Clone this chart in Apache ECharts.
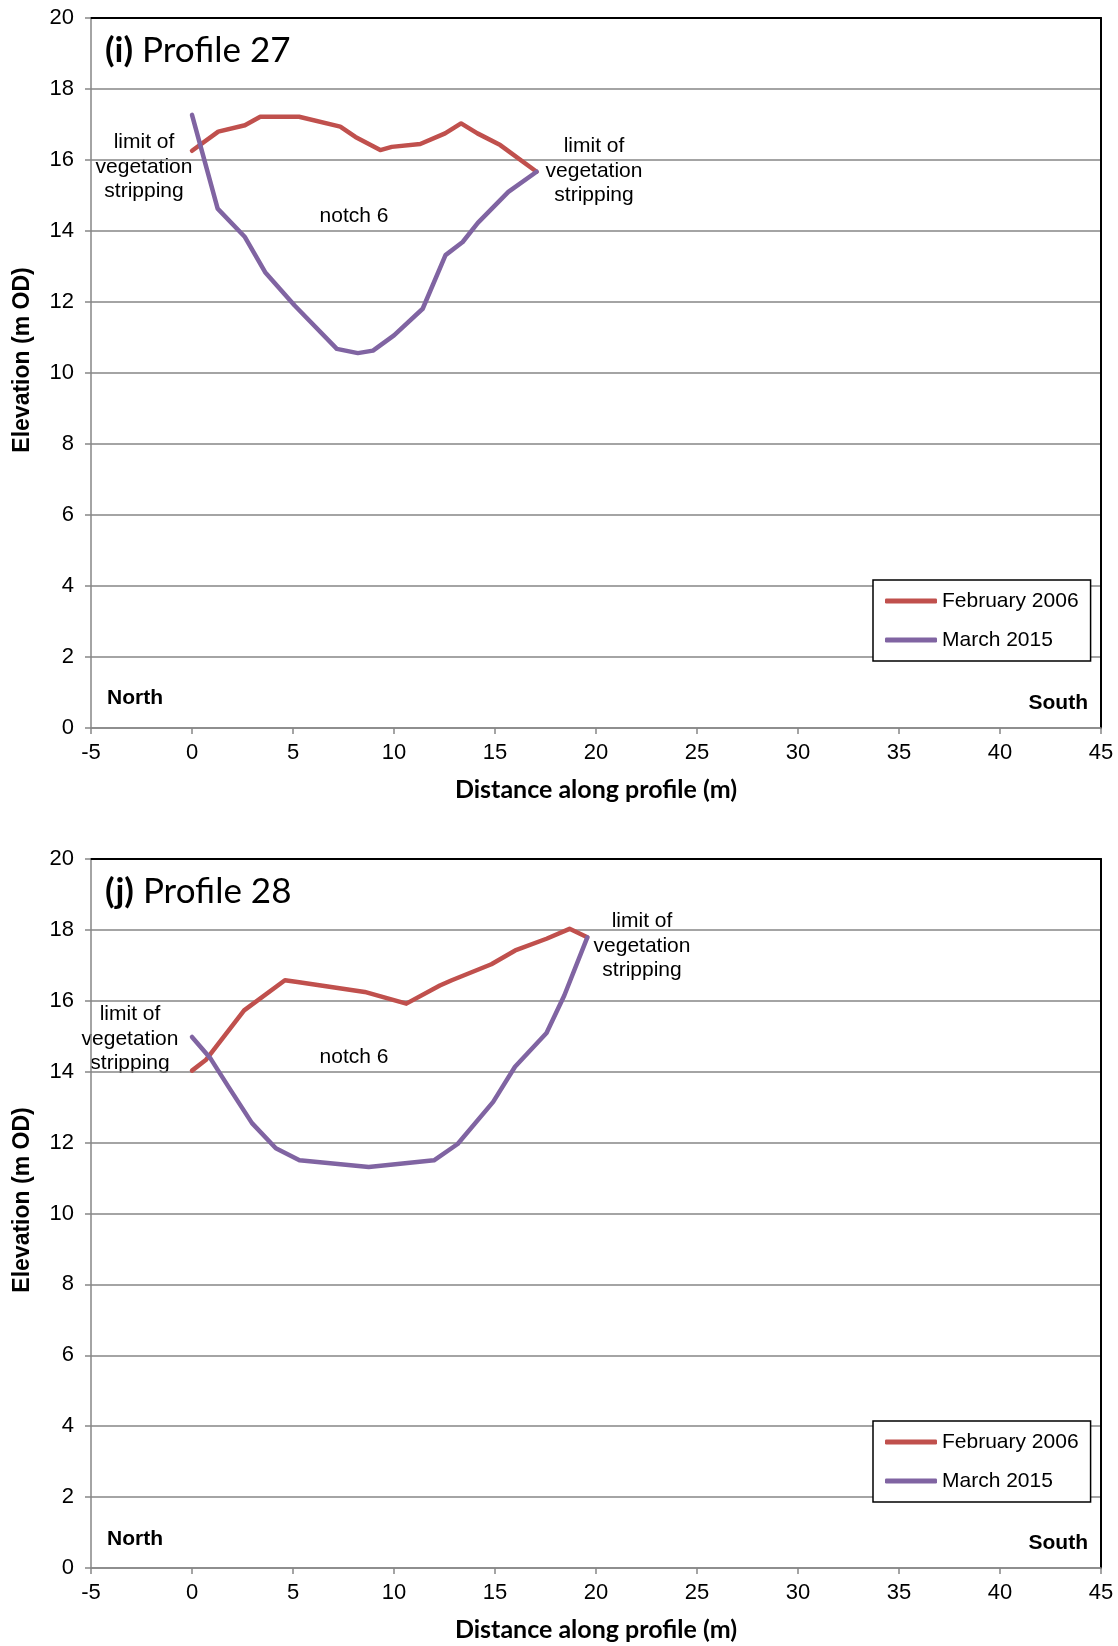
<!DOCTYPE html>
<html>
<head>
<meta charset="utf-8">
<title>Profiles 27 and 28</title>
<script src="https://cdn.jsdelivr.net/npm/echarts@6/dist/echarts.min.js"></script>
<style>
  html, body { margin: 0; padding: 0; background: #ffffff; }
  #chart { width: 1118px; height: 1646px; }
</style>
</head>
<body>
<div id="chart"></div>
<script>
// Surveyed ground profiles across notch 6: [distance along profile (m), elevation (m OD)]
const seriesNames = ['February 2006', 'March 2015'];
const colors = ['#C0504D', '#8064A2'];

const profile27Feb2006 = [
  [0, 16.26], [1.30, 16.80], [2.62, 16.98], [3.38, 17.22], [5.30, 17.22],
  [7.34, 16.94], [8.09, 16.65], [9.32, 16.28], [9.89, 16.37], [11.30, 16.45],
  [12.53, 16.75], [13.32, 17.03], [14.13, 16.75], [15.26, 16.42], [17.06, 15.67]
];
const profile27Mar2015 = [
  [0, 17.27], [1.27, 14.63], [2.62, 13.83], [3.62, 12.84], [5.08, 11.90],
  [7.17, 10.68], [8.21, 10.56], [8.96, 10.63], [10.0, 11.06], [11.42, 11.81],
  [12.55, 13.32], [13.40, 13.69], [14.15, 14.23], [15.66, 15.10], [17.06, 15.67]
];
const profile28Feb2006 = [
  [0, 14.03], [0.68, 14.33], [2.58, 15.73], [4.60, 16.58], [5.22, 16.53],
  [8.55, 16.25], [10.61, 15.92], [12.27, 16.43], [12.86, 16.58], [14.82, 17.03],
  [16.0, 17.42], [17.55, 17.75], [18.69, 18.03], [19.57, 17.79]
];
const profile28Mar2015 = [
  [0, 14.98], [0.92, 14.37], [1.80, 13.58], [2.97, 12.55], [4.15, 11.84],
  [5.32, 11.50], [8.75, 11.31], [11.98, 11.50], [13.15, 11.96], [14.91, 13.15],
  [15.99, 14.14], [17.55, 15.09], [18.43, 16.15], [19.57, 17.79]
];

const panelTitles = [['(i)', ' Profile 27'], ['(j)', ' Profile 28']];
const xTitle = 'Distance along profile (m)';
const yTitle = 'Elevation (m OD)';
const xRange = { min: -5, max: 45, interval: 5 };
const yRange = { min: 0, max: 20, interval: 2 };

const ARIAL = '"Liberation Sans", Arial, sans-serif';
const CALIBRI = 'Lato, "Open Sans", sans-serif';
const GRID_GRAY = '#868686';

const grids = [
  { left: 91, top: 18, width: 1010, height: 710, outerBoundsMode: 'none', containLabel: false },
  { left: 91, top: 859, width: 1010, height: 709, outerBoundsMode: 'none', containLabel: false }
];

const xAxes = [];
const yAxes = [];
grids.forEach((g, i) => {
  xAxes.push({
    type: 'value', gridIndex: i, min: xRange.min, max: xRange.max, interval: xRange.interval,
    name: xTitle, nameLocation: 'middle', nameGap: 49,
    nameTextStyle: { fontFamily: CALIBRI, fontWeight: 'bold', fontSize: 25, color: '#000' },
    axisLine: { show: true, onZero: false, lineStyle: { color: GRID_GRAY, width: 1.5 } },
    axisTick: { show: true, inside: false, length: 6, lineStyle: { color: GRID_GRAY, width: 1.5 } },
    axisLabel: { fontFamily: ARIAL, fontSize: 22, color: '#000', margin: 14 },
    splitLine: { show: false }
  });
  // plain black frame along the top of the plot area
  xAxes.push({
    type: 'value', gridIndex: i, position: 'top', min: xRange.min, max: xRange.max,
    axisLine: { show: true, onZero: false, lineStyle: { color: '#000', width: 2 } },
    axisTick: { show: false }, axisLabel: { show: false }, splitLine: { show: false }
  });
  yAxes.push({
    type: 'value', gridIndex: i, min: yRange.min, max: yRange.max, interval: yRange.interval,
    axisLine: { show: true, onZero: false, lineStyle: { color: GRID_GRAY, width: 1.5 } },
    axisTick: { show: true, inside: false, length: 6, lineStyle: { color: GRID_GRAY, width: 1.5 } },
    axisLabel: { fontFamily: ARIAL, fontSize: 22, color: '#000', margin: 17 },
    splitLine: { show: true, lineStyle: { color: GRID_GRAY, width: 1.5 } }
  });
  // plain black frame along the right of the plot area
  yAxes.push({
    type: 'value', gridIndex: i, position: 'right', min: yRange.min, max: yRange.max,
    axisLine: { show: true, onZero: false, lineStyle: { color: '#000', width: 2 } },
    axisTick: { show: false }, axisLabel: { show: false }, splitLine: { show: false }
  });
});

function profileLine(name, data, panel, color) {
  return {
    type: 'line', name: name, data: data,
    xAxisIndex: panel * 2, yAxisIndex: panel * 2,
    showSymbol: false, symbol: 'none', smooth: false, animation: false,
    lineStyle: { color: color, width: 4.5, cap: 'round', join: 'round' },
    itemStyle: { color: color }
  };
}

const series = [
  profileLine(seriesNames[0], profile27Feb2006, 0, colors[0]),
  profileLine(seriesNames[1], profile27Mar2015, 0, colors[1]),
  profileLine(seriesNames[0], profile28Feb2006, 1, colors[0]),
  profileLine(seriesNames[1], profile28Mar2015, 1, colors[1])
];

function legendBox(top) {
  return {
    show: true, orient: 'vertical', left: 873, top: top,
    data: seriesNames, icon: 'roundRect', itemWidth: 52, itemHeight: 5, itemGap: 15,
    padding: [9, 12, 9, 12], borderColor: '#000', borderWidth: 1.5, backgroundColor: '#fff',
    selectedMode: false,
    textStyle: { fontFamily: ARIAL, fontSize: 21, color: '#000', lineHeight: 24 }
  };
}

const annoStyle = { fontFamily: ARIAL, fontSize: 21, fill: '#000', lineHeight: 24.5, align: 'center' };
function note(x, y, text) {
  return { type: 'text', x: x, y: y, style: Object.assign({ text: text, verticalAlign: 'top' }, annoStyle) };
}
function panelTitle(y, parts) {
  return {
    type: 'text', x: 105, y: y,
    style: {
      text: '{b|' + parts[0] + '}{n|' + parts[1] + '}', verticalAlign: 'middle',
      rich: {
        b: { fontFamily: CALIBRI, fontWeight: 'bold', fontSize: 35, fill: '#000' },
        n: { fontFamily: CALIBRI, fontSize: 35, fill: '#000' }
      }
    }
  };
}
function compass(x, y, text, align) {
  return {
    type: 'text', x: x, y: y,
    style: { text: text, fontFamily: ARIAL, fontWeight: 'bold', fontSize: 21, fill: '#000', align: align, verticalAlign: 'middle' }
  };
}
function elevationTitle(y) {
  return {
    type: 'text', x: 23, y: y, rotation: Math.PI / 2,
    style: { text: yTitle, fontFamily: ARIAL, fontWeight: 'bold', fontSize: 23, fill: '#000', align: 'center', verticalAlign: 'middle' }
  };
}

const stripNote = 'limit of\nvegetation\nstripping';
const graphics = [
  panelTitle(51, panelTitles[0]),
  panelTitle(892, panelTitles[1]),
  elevationTitle(360),
  elevationTitle(1200),
  note(144, 130, stripNote),
  note(594, 134, stripNote),
  { type: 'text', x: 354, y: 216, style: Object.assign({ text: 'notch 6', verticalAlign: 'middle' }, annoStyle) },
  note(130, 1002, stripNote),
  note(642, 909, stripNote),
  { type: 'text', x: 354, y: 1057, style: Object.assign({ text: 'notch 6', verticalAlign: 'middle' }, annoStyle) },
  compass(107, 698, 'North', 'left'),
  compass(1088, 703, 'South', 'right'),
  compass(107, 1539, 'North', 'left'),
  compass(1088, 1543, 'South', 'right')
];

const chart = echarts.init(document.getElementById('chart'), null, { renderer: 'canvas' });
chart.setOption({
  backgroundColor: '#ffffff',
  animation: false,
  grid: grids,
  xAxis: xAxes,
  yAxis: yAxes,
  legend: [legendBox(580), legendBox(1421)],
  series: series,
  graphic: graphics
});
</script>
</body>
</html>
